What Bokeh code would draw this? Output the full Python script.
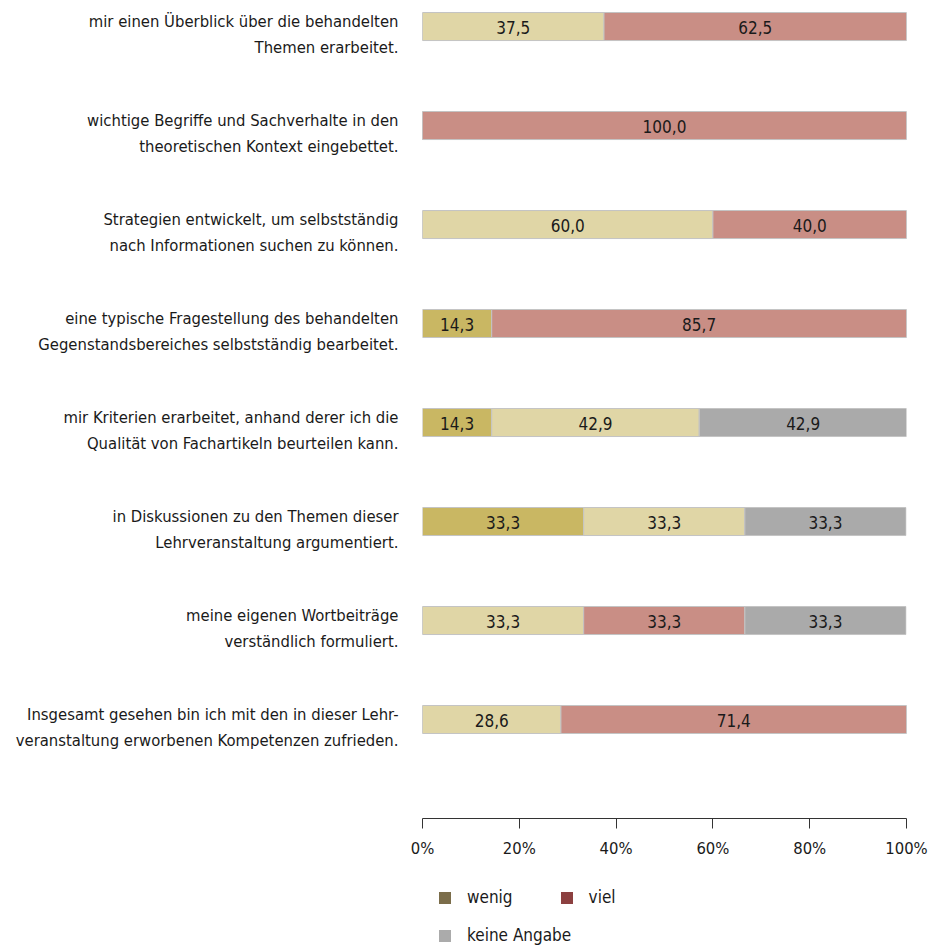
from bokeh.plotting import figure
from bokeh.layouts import column
from bokeh.models import (ColumnDataSource, Range1d, FixedTicker, Legend, LegendItem,
                          LabelSet)
from bokeh.core.properties import value
from bokeh.embed import file_html
from bokeh.resources import INLINE

FONT = "DejaVu Sans Condensed"

categories = [
    "mir einen Überblick über die behandelten\nThemen erarbeitet.",
    "wichtige Begriffe und Sachverhalte in den\ntheoretischen Kontext eingebettet.",
    "Strategien entwickelt, um selbstständig\nnach Informationen suchen zu können.",
    "eine typische Fragestellung des behandelten\nGegenstandsbereiches selbstständig bearbeitet.",
    "mir Kriterien erarbeitet, anhand derer ich die\nQualität von Fachartikeln beurteilen kann.",
    "in Diskussionen zu den Themen dieser\nLehrveranstaltung argumentiert.",
    "meine eigenen Wortbeiträge\nverständlich formuliert.",
    "Insgesamt gesehen bin ich mit den in dieser Lehr-\nveranstaltung erworbenen Kompetenzen zufrieden.",
]
wenig = [0, 0, 0, 14.3, 14.3, 33.3, 0, 0]
mittel = [37.5, 0, 60.0, 0, 42.9, 33.3, 33.3, 28.6]
viel = [62.5, 100.0, 40.0, 85.7, 0, 0, 33.3, 71.4]
keine = [0, 0, 0, 0, 42.9, 33.3, 33.3, 0]
series = ["wenig", "mittel", "viel", "keine"]
bar_colors = ["#C9B763", "#E0D6A6", "#C98E85", "#AAAAAA"]
legend_labels = ["wenig", "viel", "keine Angabe"]
legend_colors = ["#7B6D4A", "#8C4040", "#ABABAB"]
x_ticks = [0, 20, 40, 60, 80, 100]

ypos = list(range(len(categories)))
src = ColumnDataSource(dict(y=ypos, wenig=wenig, mittel=mittel, viel=viel, keine=keine))

p = figure(width=931, height=870, output_backend="svg", toolbar_location=None,
           x_range=Range1d(0, 100), y_range=Range1d(8.0, -0.263),
           min_border_left=422, min_border_right=25, min_border_top=0,
           min_border_bottom=52)
p.outline_line_color = None
p.grid.visible = False

p.hbar_stack(series, y="y", height=0.283, color=bar_colors, source=src,
             line_color="#C4C4C4", line_width=1)

# value labels
lx, ly, lt = [], [], []
for i in range(len(categories)):
    left = 0
    for vals in (wenig, mittel, viel, keine):
        v = vals[i]
        if v > 0:
            lx.append(left + v / 2)
            ly.append(i)
            lt.append(f"{v:.1f}".replace(".", ","))
        left += v
lsrc = ColumnDataSource(dict(x=lx, y=ly, t=lt))
labels = LabelSet(x="x", y="y", text="t", source=lsrc, text_align="center",
                  text_baseline="middle", text_font=value(FONT), text_font_size="17px",
                  text_color="#1a1a1a", y_offset=-1)
p.add_layout(labels)

# axes: category labels sit slightly below the bar centre, as in the original
LABEL_SHIFT = 0.08
label_ticks = [round(i + LABEL_SHIFT, 2) for i in ypos]
p.yaxis.ticker = FixedTicker(ticks=label_ticks)
p.yaxis.major_label_overrides = {t: c for t, c in zip(label_ticks, categories)}
p.yaxis.axis_line_color = None
p.yaxis.major_tick_line_color = None
p.yaxis.minor_tick_line_color = None
p.yaxis.major_label_standoff = 18
p.yaxis.major_label_text_font = FONT
p.yaxis.major_label_text_font_size = "16.5px"
p.yaxis.major_label_text_color = "#1a1a1a"
p.yaxis.major_label_text_line_height = 1.36

p.xaxis.ticker = FixedTicker(ticks=x_ticks)
p.xaxis.major_label_overrides = {t: f"{t}%" for t in x_ticks}
p.xaxis.axis_line_color = "#333333"
p.xaxis.major_tick_line_color = "#333333"
p.xaxis.major_tick_in = 0
p.xaxis.major_tick_out = 10
p.xaxis.minor_tick_line_color = None
p.xaxis.major_label_standoff = 10
p.xaxis.major_label_text_font = FONT
p.xaxis.major_label_text_font_size = "16.5px"
p.xaxis.major_label_text_color = "#1a1a1a"

# legend in its own strip below
q = figure(width=931, height=77, output_backend="svg", toolbar_location=None,
           x_range=Range1d(0, 1), y_range=Range1d(0, 1),
           min_border=0, x_axis_type=None, y_axis_type=None)
q.outline_line_color = None
q.grid.visible = False
nan = float("nan")
items = []
for lab, col in zip(legend_labels, legend_colors):
    r = q.quad(left=[nan], right=[nan], top=[nan], bottom=[nan], fill_color=col,
               line_color=None)
    items.append(LegendItem(label=lab, renderers=[r]))

common = dict(border_line_color=None, background_fill_alpha=0, padding=0, margin=0,
              glyph_width=15, glyph_height=15, label_standoff=15,
              label_text_font=FONT, label_text_font_size="17px",
              label_text_color="#1a1a1a")
legend_top = Legend(items=items[:2], location=(15, 40), orientation="horizontal",
                    spacing=46, **common)
legend_bottom = Legend(items=items[2:], location=(15, 2), orientation="horizontal",
                       spacing=0, **common)
q.add_layout(legend_top, "center")
q.add_layout(legend_bottom, "center")

layout = column(p, q, spacing=0)
open("out.html", "w").write(file_html(layout, INLINE))
